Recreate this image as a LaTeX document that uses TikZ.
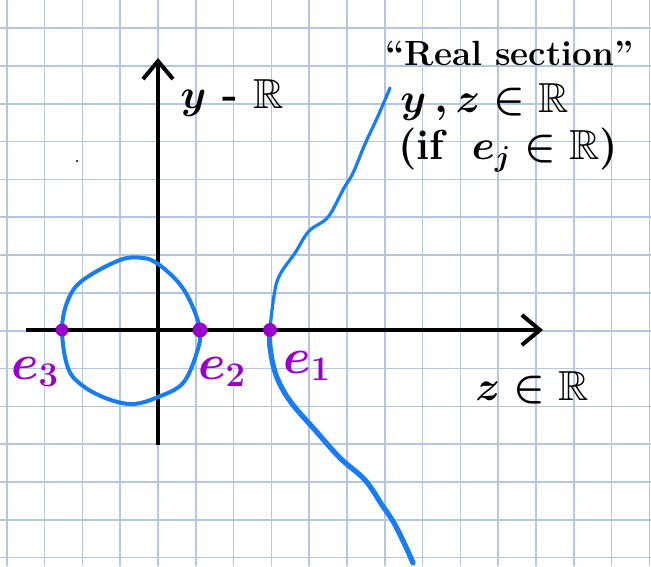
\documentclass[tikz,border=0pt]{standalone}
\usepackage{amssymb}
\usetikzlibrary{arrows.meta}
\definecolor{gridblue}{RGB}{180,198,224}
\definecolor{curveblue}{RGB}{24,125,245}
\definecolor{rootpurple}{RGB}{153,0,204}

\begin{document}
\begin{tikzpicture}[x=0.5pt,y=-0.5pt,
    axis/.style={line width=2pt, -{Straight Barb[length=9pt,width=15pt]}},
    curve/.style={curveblue, line width=1.6pt, line join=round, line cap=round},
    rootlabel/.style={rootpurple, font=\fontsize{27}{31}\selectfont\boldmath, inner sep=0pt},
    note/.style={font=\fontsize{21}{25}\selectfont\bfseries\boldmath, inner sep=0pt}]
    \useasboundingbox (0,0) rectangle (651,566);
    \fill[white] (0,0) rectangle (651,566);

    % Add the squared paper
    \foreach \k in {0,...,17}
        \draw[gridblue, line width=0.8pt] ({6.7+37.8*\k},0) -- ({6.7+37.8*\k},566);
    \foreach \k in {0,...,14}
        \draw[gridblue, line width=0.8pt] (0,{28.3+37.8*\k}) -- (651,{28.3+37.8*\k});

    %Define the z axis
    \coordinate (zstart) at (26,330);
    \coordinate (zend) at (543,330);
    \draw[axis] (zstart) -- (zend);
    %Define the y axis
    \coordinate (ystart) at (158,445);
    \coordinate (yend) at (158,58);
    \draw[axis] (ystart) -- (yend);

    % Add the roots on the z axis
    \coordinate (e3) at (62,330);
    \coordinate (e2) at (200,330);
    \coordinate (e1) at (270,330);

    % Add the closed oval through e3 and e2
    \draw[curve, line width=2pt] plot[smooth cycle, tension=0.6] coordinates
        {(62,330) (68,300) (83,280) (120,260) (143,258) (158,264) (178,282) (191,303)
         (200,330) (197,352) (183,383) (158,397) (133,404) (108,399) (83,386) (68,368)};

    % Add the open branch through e1
    \draw[curve] plot[smooth, tension=0.6] coordinates
        {(390,88) (378,116) (365,144) (353,173) (344,188) (328,217) (309,231)
         (295,253) (282,271) (276,285) (272,310) (270,330)};
    \draw[curve, line width=2.6pt] plot[smooth, tension=0.6] coordinates
        {(270,330) (270,347) (276,375) (290,401) (315,430) (340,458) (365,480)
         (382,505) (394,523) (405,545) (413,563)};

    % Add the points e1, e2, e3
    \filldraw[rootpurple] (e3) circle (6);
    \filldraw[rootpurple] (e2) circle (7);
    \filldraw[rootpurple] (e1) circle (6.5);
    \node[rootlabel] (e3label) at (35,372) {$e_3$};
    \node[rootlabel] (e2label) at (222,372) {$e_2$};
    \node[rootlabel] (e1label) at (307,366) {$e_1$};

    % Add the stray dot
    \fill (77,161) circle (1.2);

    % Add the texts
    \node[note, anchor=west] (ylabel) at (180,98) {$y$ - $\mathbb{R}$};
    \node[note, anchor=base west, font=\fontsize{17.5}{21}\selectfont\bfseries]
        (title) at (385,66) {``Real section''};
    \node[note, anchor=west] (realyz) at (400,102) {$y\,,z\in\mathbb{R}$};
    \node[note, anchor=west] (ifcond) at (398,150) {(if\; $e_j\in\mathbb{R}$)};
    \node[note, anchor=west] (zlabel) at (475,388) {$z\in\mathbb{R}$};
\end{tikzpicture}
\end{document}
